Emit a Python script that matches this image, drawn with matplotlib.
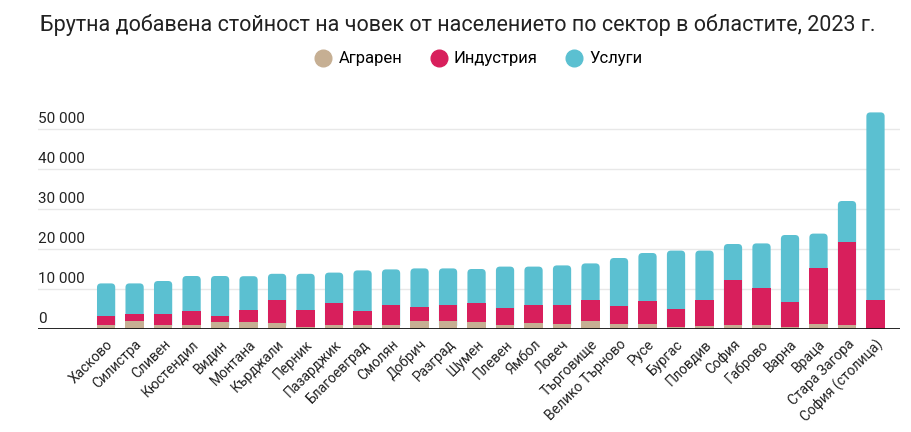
import matplotlib
matplotlib.use("Agg")
import matplotlib.pyplot as plt
from matplotlib.patches import FancyBboxPatch
from matplotlib.lines import Line2D

plt.rcParams['font.family'] = ['Roboto', 'DejaVu Sans']

# области, подредени по общата стойност
oblasti = ['Хасково', 'Силистра', 'Сливен', 'Кюстендил', 'Видин', 'Монтана',
           'Кърджали', 'Перник', 'Пазарджик', 'Благоевград', 'Смолян', 'Добрич',
           'Разград', 'Шумен', 'Плевен', 'Ямбол', 'Ловеч', 'Търговище',
           'Велико Търново', 'Русе', 'Бургас', 'Пловдив', 'София', 'Габрово',
           'Варна', 'Враца', 'Стара Загора', 'София (столица)']

agraren = [900, 2000, 900, 900, 1750, 1750, 1500, 600, 900, 900, 900, 2000,
           2000, 1850, 900, 1500, 1250, 2000, 1250, 1250, 600, 750, 900, 900,
           600, 1250, 900, 50]
industria = [2350, 1750, 2850, 3700, 1500, 3000, 5750, 4150, 5500, 3700, 5200, 3600,
             4100, 4550, 4450, 4600, 4850, 5250, 4600, 5650, 4500, 6500, 11350, 9450,
             6150, 14100, 20950, 7200]
uslugi = [8150, 7650, 8250, 8650, 10000, 8450, 6550, 9050, 7700, 10050, 8800, 9550,
          9050, 8600, 10250, 9500, 9800, 9150, 11900, 12100, 14500, 12350, 9000, 11050,
          16750, 8500, 10150, 46900]

y_ticks = [0, 10000, 20000, 30000, 40000, 50000]
y_labels = ['0', '10 000', '20 000', '30 000', '40 000', '50 000']

c_agr = '#c6af93'
c_ind = '#d81f5c'
c_usl = '#5bc0d1'

fig = plt.figure(figsize=(9.12, 4.32), dpi=100)
ax = fig.add_axes([38 / 912, 1 - 329 / 432, 862 / 912, 229 / 432])
ax.set_xlim(-2.39, 27.86)
ax.set_ylim(0, 57250)

x = list(range(len(oblasti)))
w = 0.64
# px -> единици, за да са закръгляванията кръгли
px_x = (27.86 + 2.39) / 862
px_y = 57250 / 229
for i in x:
    total = agraren[i] + industria[i] + uslugi[i]
    box = FancyBboxPatch((i - w / 2, 0), w, total,
                         boxstyle="round,pad=0,rounding_size=%f" % (4 * px_x),
                         mutation_aspect=px_y / px_x,
                         facecolor=c_usl, edgecolor='none', zorder=2)
    ax.add_patch(box)

bottom2 = [a for a in agraren]
ax.bar(x, industria, w, bottom=bottom2, color=c_ind, zorder=3)
ax.bar(x, agraren, w, color=c_agr, zorder=4)

for t, lab in zip(y_ticks, y_labels):
    if t > 0:
        ax.axhline(t, color='#e8e8e8', lw=1, zorder=1)
    ax.text(0, t + 3 * px_y, lab, transform=ax.get_yaxis_transform(),
            ha='left', va='bottom', fontsize=11, color='#222222')
ax.axhline(0, color='#111111', lw=2, zorder=5)

for s in ax.spines.values():
    s.set_visible(False)
ax.set_yticks([])
ax.set_xticks(x)
ax.set_xticklabels(oblasti, rotation=45, ha='right', va='top',
                   rotation_mode='anchor', fontsize=10, color='#222222')
ax.tick_params(axis='x', length=0, pad=6)

fig.text(458 / 912, 1 - 25 / 432, 'Брутна добавена стойност на човек от населението по сектор в областите, 2023 г.',
         ha='center', va='center', fontsize=15.5, color='#222222')

handles = [Line2D([], [], marker='o', ls='none', markersize=12, color=c) for c in (c_agr, c_ind, c_usl)]
fig.legend(handles, ['Аграрен', 'Индустрия', 'Услуги'], loc='center', ncol=3,
           bbox_to_anchor=(478 / 912, 1 - 59 / 432), frameon=False, fontsize=12,
           handletextpad=0.3, columnspacing=1.6, handlelength=1.2)

fig.savefig('out.png', dpi=100)
